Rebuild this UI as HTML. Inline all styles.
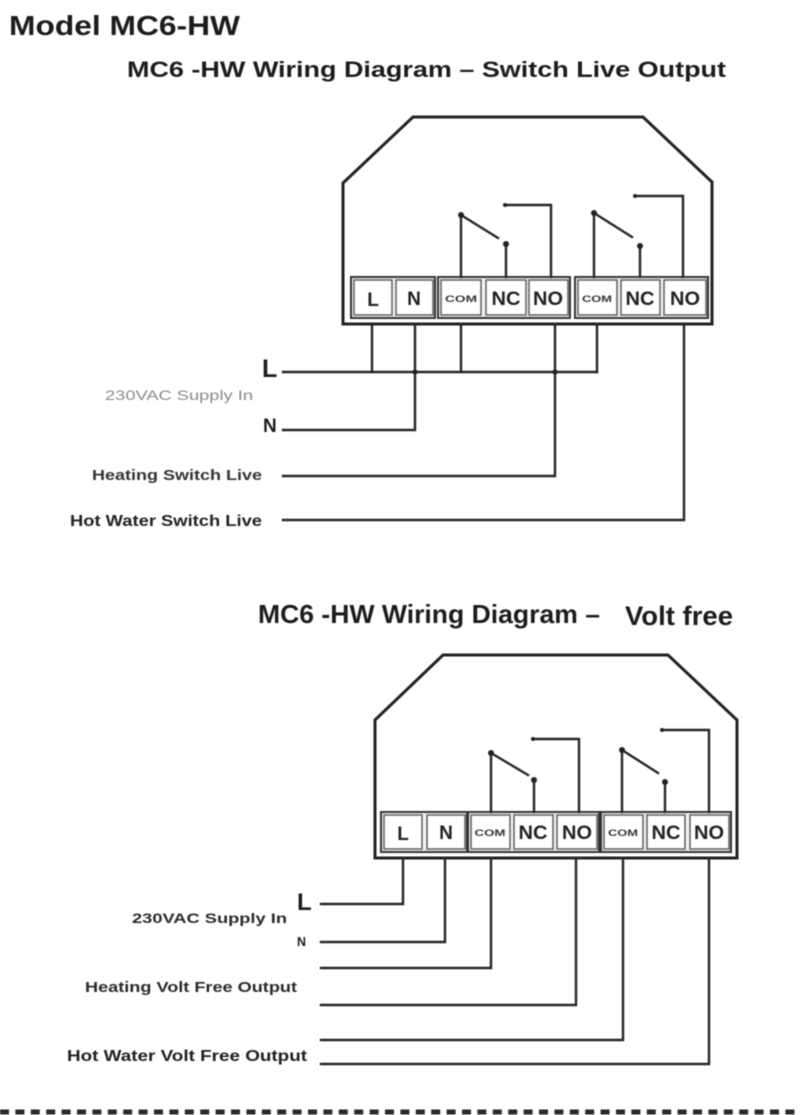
<!DOCTYPE html>
<html>
<head>
<meta charset="utf-8">
<style>
  html, body { margin: 0; padding: 0; background: #ffffff; }
  body { width: 800px; height: 1115px; overflow: hidden; }
  svg { display: block; filter: blur(0.4px); }
  text { font-family: "Liberation Sans", Arial, sans-serif; font-weight: bold; fill: #1c1c1c; }
  .w { stroke: #262626; stroke-width: 2.4; fill: none; stroke-linecap: square; }
  .h { stroke: #222; stroke-width: 3; fill: none; stroke-linejoin: miter; }
  .grp { stroke: #333; stroke-width: 2; fill: #f4f4f4; }
  .tb { stroke: #666; stroke-width: 1.6; fill: #ffffff; }
  .t { font-size: 19px; text-anchor: middle; fill: #222; }
  .c { font-size: 9px; text-anchor: middle; fill: #333; }
</style>
</head>
<body>
<svg width="800" height="1115" viewBox="0 0 800 1115" xmlns="http://www.w3.org/2000/svg">
  <!-- Titles -->
  <text x="9" y="35" font-size="28" textLength="231" lengthAdjust="spacingAndGlyphs">Model MC6-HW</text>
  <text x="127" y="77" font-size="22" textLength="599" lengthAdjust="spacingAndGlyphs">MC6 -HW  Wiring Diagram – Switch Live Output</text>

  <!-- ========== TOP DIAGRAM ========== -->
  <polygon class="h" points="343,324 343,183 413,117 643,117 712,182 712,324"/>

  <rect class="grp" x="351" y="277" width="84" height="41"/>
  <rect class="grp" x="438" y="277" width="132" height="41"/>
  <rect class="grp" x="575" y="277" width="133" height="41"/>
  <rect class="tb" x="354" y="280" width="38" height="35"/>
  <rect class="tb" x="396" y="280" width="37" height="35"/>
  <rect class="tb" x="441" y="280" width="40" height="35"/>
  <rect class="tb" x="486" y="280" width="40" height="35"/>
  <rect class="tb" x="529" y="280" width="39" height="35"/>
  <rect class="tb" x="578" y="280" width="39" height="35"/>
  <rect class="tb" x="621" y="280" width="39" height="35"/>
  <rect class="tb" x="664" y="280" width="42" height="35"/>
  <text class="t" x="373" y="306">L</text>
  <text class="t" x="414" y="305" font-size="17">N</text>
  <text class="c" x="461" y="302" textLength="32" lengthAdjust="spacingAndGlyphs">COM</text>
  <text class="t" x="506" y="305" font-size="16" textLength="29" lengthAdjust="spacingAndGlyphs">NC</text>
  <text class="t" x="548" y="305" font-size="16" textLength="30" lengthAdjust="spacingAndGlyphs">NO</text>
  <text class="c" x="597" y="302" textLength="30" lengthAdjust="spacingAndGlyphs">COM</text>
  <text class="t" x="640" y="305" font-size="16" textLength="29" lengthAdjust="spacingAndGlyphs">NC</text>
  <text class="t" x="685" y="305" font-size="16" textLength="30" lengthAdjust="spacingAndGlyphs">NO</text>

  <!-- relay 1 -->
  <polyline class="w" points="461,277 461,215 498,238"/>
  <circle cx="461" cy="215" r="3" fill="#222"/>
  <polyline class="w" points="506,277 506,244"/>
  <circle cx="506" cy="244" r="3" fill="#222"/>
  <polyline class="w" points="505,205 551,205 551,277"/>
  <circle cx="505" cy="205" r="2" fill="#222"/>
  <!-- relay 2 -->
  <polyline class="w" points="594,277 594,213 632,237"/>
  <circle cx="594" cy="213" r="3" fill="#222"/>
  <polyline class="w" points="640,277 640,246"/>
  <circle cx="640" cy="246" r="3" fill="#222"/>
  <polyline class="w" points="635,196 683,196 683,277"/>
  <circle cx="635" cy="196" r="2" fill="#222"/>

  <!-- external wiring top -->
  <line class="w" x1="283" y1="372" x2="597" y2="372"/>
  <line class="w" x1="372" y1="324" x2="372" y2="372"/>
  <line class="w" x1="461" y1="324" x2="461" y2="372"/>
  <line class="w" x1="597" y1="324" x2="597" y2="372"/>
  <polyline class="w" points="415,324 415,430 283,430"/>
  <polyline class="w" points="555,324 555,476 283,476"/>
  <polyline class="w" points="684,324 684,520 283,520"/>
  <circle cx="415" cy="372" r="2.6" fill="#222"/>
  <circle cx="555" cy="372" r="2.6" fill="#222"/>

  <text x="262" y="377" font-size="25">L</text>
  <text x="105" y="400" font-size="14" style="font-weight:normal;fill:#8a8a8a" textLength="148" lengthAdjust="spacingAndGlyphs">230VAC Supply In</text>
  <text x="263" y="432" font-size="19">N</text>
  <text x="92" y="480" font-size="15" textLength="170" lengthAdjust="spacingAndGlyphs" style="fill:#333">Heating  Switch Live</text>
  <text x="70" y="526" font-size="16" textLength="192" lengthAdjust="spacingAndGlyphs" style="fill:#222">Hot Water  Switch Live</text>

  <!-- ========== BOTTOM DIAGRAM ========== -->
  <text x="258" y="623" font-size="26" textLength="342" lengthAdjust="spacingAndGlyphs">MC6 -HW Wiring Diagram –</text>
  <text x="625" y="625" font-size="27" textLength="108" lengthAdjust="spacingAndGlyphs">Volt free</text>

  <polygon class="h" points="375,858 375,720 443,655 668,655 737,720 737,858"/>

  <rect class="grp" x="381" y="812" width="86" height="40"/>
  <rect class="grp" x="468" y="812" width="131" height="40"/>
  <rect class="grp" x="601" y="812" width="130" height="40"/>
  <rect class="tb" x="384" y="815" width="38" height="34"/>
  <rect class="tb" x="427" y="815" width="38" height="34"/>
  <rect class="tb" x="471" y="815" width="39" height="34"/>
  <rect class="tb" x="514" y="815" width="39" height="34"/>
  <rect class="tb" x="557" y="815" width="40" height="34"/>
  <rect class="tb" x="604" y="815" width="39" height="34"/>
  <rect class="tb" x="647" y="815" width="38" height="34"/>
  <rect class="tb" x="690" y="815" width="39" height="34"/>
  <text class="t" x="403" y="840">L</text>
  <text class="t" x="446" y="839" font-size="17">N</text>
  <text class="c" x="490" y="836" textLength="31" lengthAdjust="spacingAndGlyphs">COM</text>
  <text class="t" x="533" y="839" font-size="16" textLength="29" lengthAdjust="spacingAndGlyphs">NC</text>
  <text class="t" x="577" y="839" font-size="16" textLength="30" lengthAdjust="spacingAndGlyphs">NO</text>
  <text class="c" x="623" y="836" textLength="30" lengthAdjust="spacingAndGlyphs">COM</text>
  <text class="t" x="666" y="839" font-size="16" textLength="29" lengthAdjust="spacingAndGlyphs">NC</text>
  <text class="t" x="709" y="839" font-size="16" textLength="30" lengthAdjust="spacingAndGlyphs">NO</text>

  <!-- relay 1 -->
  <polyline class="w" points="491,812 491,753 528,775"/>
  <circle cx="491" cy="753" r="3" fill="#222"/>
  <polyline class="w" points="534,812 534,780"/>
  <circle cx="534" cy="780" r="3" fill="#222"/>
  <polyline class="w" points="533,739 579,739 579,812"/>
  <circle cx="533" cy="739" r="2" fill="#222"/>
  <!-- relay 2 -->
  <polyline class="w" points="622,812 622,750 658,773"/>
  <circle cx="622" cy="750" r="3" fill="#222"/>
  <polyline class="w" points="665,812 665,782"/>
  <circle cx="665" cy="782" r="3" fill="#222"/>
  <polyline class="w" points="662,730 709,730 709,812"/>
  <circle cx="662" cy="730" r="2" fill="#222"/>

  <!-- external wiring bottom -->
  <polyline class="w" points="403,858 403,904 321,904"/>
  <polyline class="w" points="445,858 445,942 321,942"/>
  <polyline class="w" points="491,858 491,968 321,968"/>
  <polyline class="w" points="576,858 576,1005 321,1005"/>
  <polyline class="w" points="623,858 623,1040 321,1040"/>
  <polyline class="w" points="709,858 709,1064 321,1064"/>

  <text x="297" y="910" font-size="24">L</text>
  <text x="132" y="923" font-size="14" textLength="155" lengthAdjust="spacingAndGlyphs" style="fill:#2a2a2a">230VAC Supply In</text>
  <text x="297" y="946" font-size="13" textLength="9" lengthAdjust="spacingAndGlyphs">N</text>
  <text x="85" y="992" font-size="15" textLength="212" lengthAdjust="spacingAndGlyphs" style="fill:#2a2a2a">Heating Volt Free Output</text>
  <text x="67" y="1061" font-size="16" textLength="240" lengthAdjust="spacingAndGlyphs" style="fill:#1f1f1f">Hot Water  Volt Free Output</text>

  <!-- dashed separator -->
  <line x1="0" y1="1112" x2="800" y2="1112" stroke="#2a2a2a" stroke-width="5" stroke-dasharray="9 6.4"/>
</svg>
</body>
</html>
